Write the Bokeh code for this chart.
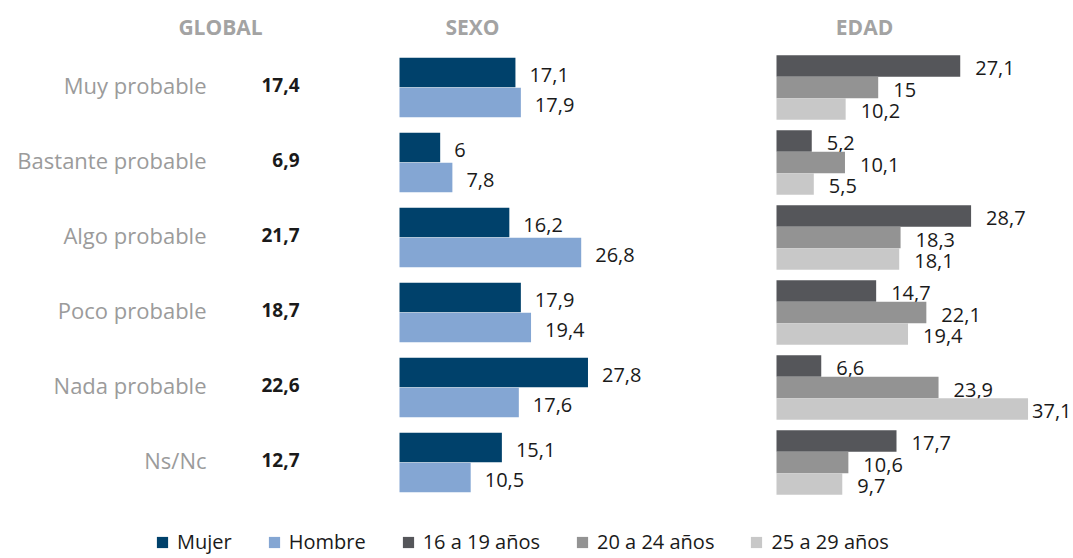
from bokeh.plotting import figure
from bokeh.models import Range1d, ColumnDataSource, Legend, LegendItem
from bokeh.core.properties import value
from bokeh.embed import file_html
from bokeh.resources import INLINE

# ---- data ----
categories = ["Muy probable", "Bastante probable", "Algo probable",
              "Poco probable", "Nada probable", "Ns/Nc"]
global_vals = [17.4, 6.9, 21.7, 18.7, 22.6, 12.7]
mujer = [17.1, 6, 16.2, 17.9, 27.8, 15.1]
hombre = [17.9, 7.8, 26.8, 19.4, 17.6, 10.5]
edad_16_19 = [27.1, 5.2, 28.7, 14.7, 6.6, 17.7]
edad_20_24 = [15, 10.1, 18.3, 22.1, 23.9, 10.6]
edad_25_29 = [10.2, 5.5, 18.1, 19.4, 37.1, 9.7]
headers = ["GLOBAL", "SEXO", "EDAD"]
legend_labels = ["Mujer", "Hombre", "16 a 19 años", "20 a 24 años", "25 a 29 años"]

FONT = "Open Sans"
C_MUJER, C_HOMBRE = "#00416B", "#84A6D3"
C_E1, C_E2, C_E3 = "#55565A", "#939393", "#C8C8C8"
C_LABEL, C_HEAD, C_NUM = "#9B9B9B", "#A3A3A3", "#1A1A1A"


def fmt(v):
    return f"{v:g}".replace(".", ",")


W, H = 1073, 558
PX = 6.78              # pixels per percentage unit
SEXO_ZERO, EDAD_ZERO = 399, 776

p = figure(width=W, height=H, output_backend="svg", toolbar_location=None,
           x_range=Range1d(0, W), y_range=Range1d(6.28, -1.16),
           min_border=0, outline_line_color=None)
p.axis.visible = False
p.grid.visible = False
p.extra_x_ranges = {
    "sexo": Range1d(-SEXO_ZERO / PX, (W - SEXO_ZERO) / PX),
    "edad": Range1d(-EDAD_ZERO / PX, (W - EDAD_ZERO) / PX),
}

idx = list(range(len(categories)))

# ---- GLOBAL column ----
gsrc = ColumnDataSource(dict(y=idx, cat=categories,
                             val=[fmt(v) for v in global_vals]))
p.text(x=206, y="y", text="cat", source=gsrc, text_align="right",
       text_baseline="middle", text_font=value(FONT), text_font_size="22px",
       text_color=C_LABEL, y_offset=-3)
p.text(x=299, y="y", text="val", source=gsrc, text_align="right",
       text_baseline="middle", text_font=value(FONT), text_font_size="19px",
       text_font_style="bold", text_color=C_NUM, y_offset=-3)

# ---- headers ----
p.text(x=[220, 472, 864], y=[-0.813] * 3, text=headers, text_align="center",
       text_baseline="middle", text_font=value(FONT), text_font_size="21px",
       text_font_style="bold", text_color=C_HEAD)

# ---- SEXO ----
h2 = 0.393
renderers = []
for vals, off, col in [(mujer, -0.2, C_MUJER), (hombre, 0.2, C_HOMBRE)]:
    src = ColumnDataSource(dict(y=[i + off for i in idx], v=vals,
                                lab=[fmt(v) for v in vals]))
    r = p.hbar(y="y", left=0, right="v", height=h2, source=src,
               fill_color=col, line_color=None, x_range_name="sexo")
    renderers.append(r)
    p.text(x="v", y="y", text="lab", source=src, x_offset=14, y_offset=2,
           text_align="left", text_baseline="middle", text_font=value(FONT),
           text_font_size="20px", text_color=C_NUM, x_range_name="sexo")

# ---- EDAD ----
h3 = 0.287
LABEL_W = 38  # approx. width of a value label in px
for vals, off, col in [(edad_16_19, -h3, C_E1), (edad_20_24, 0, C_E2),
                       (edad_25_29, h3, C_E3)]:
    xoff = [15 if EDAD_ZERO + v * PX + 15 + LABEL_W <= W else 4 for v in vals]
    src = ColumnDataSource(dict(y=[i + off for i in idx], v=vals, xo=xoff,
                                lab=[fmt(v) for v in vals]))
    r = p.hbar(y="y", left=0, right="v", height=h3, source=src,
               fill_color=col, line_color=None, x_range_name="edad")
    renderers.append(r)
    p.text(x="v", y="y", text="lab", source=src, x_offset="xo", y_offset=2,
           text_align="left", text_baseline="middle", text_font=value(FONT),
           text_font_size="20px", text_color=C_NUM, x_range_name="edad")

# ---- legend ----
legend = Legend(items=[LegendItem(label=l, renderers=[r])
                       for l, r in zip(legend_labels, renderers)],
                orientation="horizontal", location=(155, 3),
                glyph_width=14, glyph_height=14, label_standoff=8, spacing=35,
                label_text_font=FONT, label_text_font_size="20px",
                label_text_color=C_NUM, padding=0, margin=0,
                border_line_color=None, background_fill_alpha=0)
p.add_layout(legend)

open("out.html", "w").write(file_html(p, INLINE))
